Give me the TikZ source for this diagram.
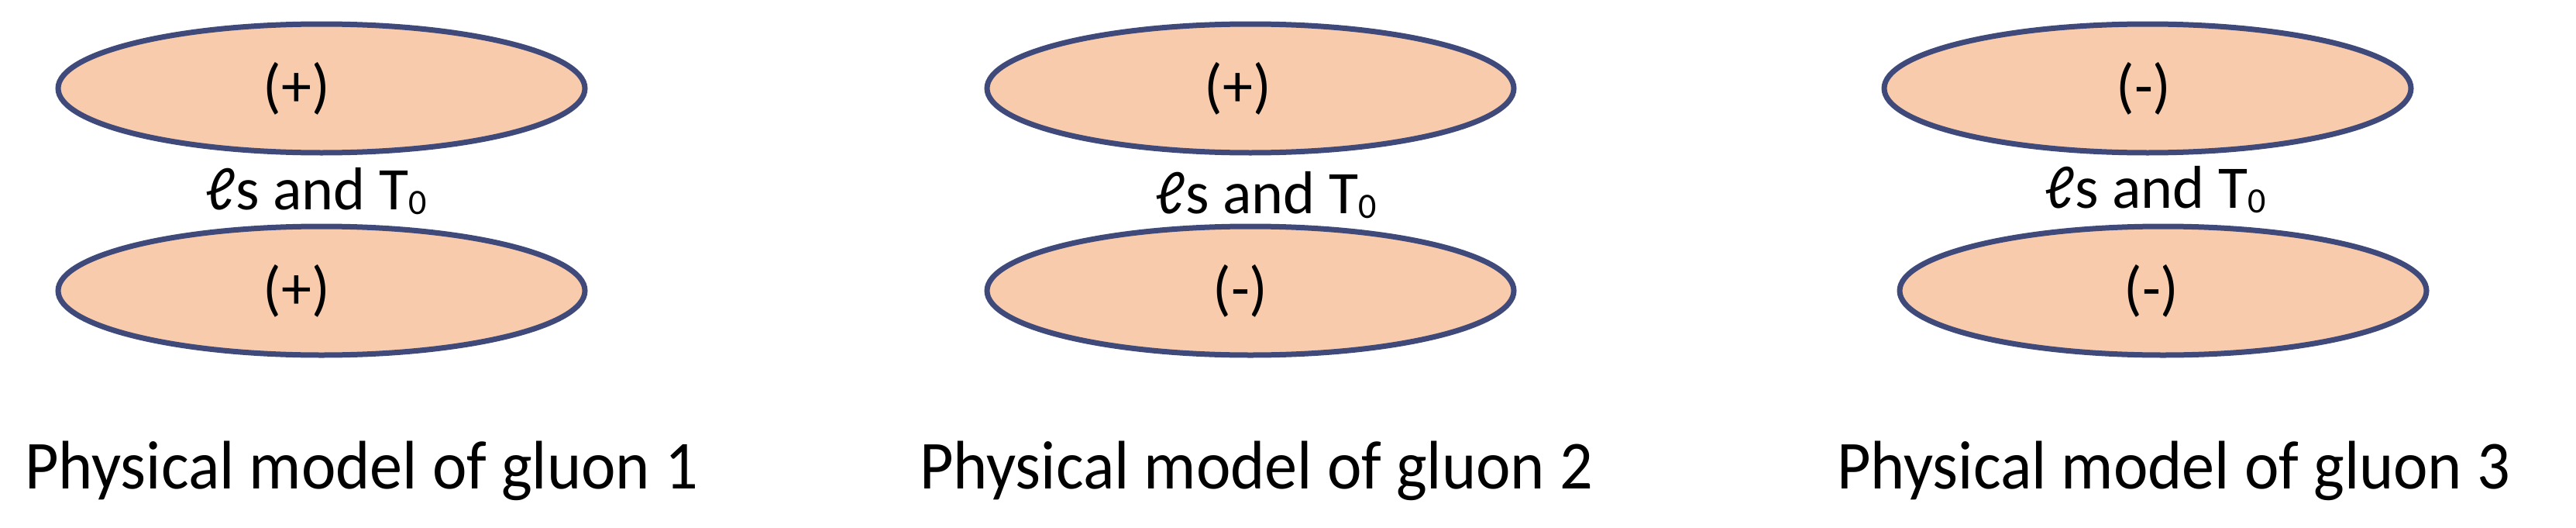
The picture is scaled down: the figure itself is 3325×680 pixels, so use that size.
\documentclass[tikz,border=0pt]{standalone}
\usepackage{fontspec}
\setmainfont{Carlito}
\usetikzlibrary{shapes.geometric}
\definecolor{blobfill}{HTML}{F8CBAD}
\definecolor{blobline}{HTML}{3F4A7A}
\newcommand{\gapText}{ℓs and T\raisebox{-0.08em}{\fontsize{46}{50}\selectfont 0}}
\newcommand{\capText}[1]{\scalebox{0.98}[1.03]{Physical model of gluon #1}}
\begin{document}
\begin{tikzpicture}[x=1pt,y=-1pt,
  blob/.style={ellipse, draw=blobline, fill=blobfill, line width=7pt,
    minimum width=680pt, minimum height=166pt, inner sep=0pt},
  sign/.style={anchor=base, font=\fontsize{78}{90}\selectfont, inner sep=0pt},
  gaplabel/.style={anchor=base, font=\fontsize{78}{90}\selectfont, inner sep=0pt},
  caption/.style={anchor=base west, font=\fontsize{86}{100}\selectfont, inner sep=0pt}]
\useasboundingbox (0,0) rectangle (3325,680);
\fill[white] (0,0) rectangle (3325,680);
% gluon 1
\node[blob] (e1t) at (415,114) {};
\node[blob] (e1b) at (415,375) {};
\node[sign] (s1t) at (383,137) {(+)};
\node[sign] (s1b) at (383,398) {(+)};
\node[gaplabel] (g1) at (408,270) {\gapText};
\node[caption] (c1) at (32,630) {\capText{1}};
% gluon 2
\node[blob] (e2t) at (1614,114) {};
\node[blob] (e2b) at (1614,375) {};
\node[sign] (s2t) at (1598,137) {(+)};
\node[sign] (s2b) at (1601,398) {(-)};
\node[gaplabel] (g2) at (1634,275) {\gapText};
\node[caption] (c2) at (1187,630) {\capText{2}};
% gluon 3
\node[blob] (e3t) at (2772,114) {};
\node[blob] (e3b) at (2792,375) {};
\node[sign] (s3t) at (2767,137) {(-)};
\node[sign] (s3b) at (2777,398) {(-)};
\node[gaplabel] (g3) at (2782,268) {\gapText};
\node[caption] (c3) at (2371,630) {\capText{3}};
\end{tikzpicture}
\end{document}
